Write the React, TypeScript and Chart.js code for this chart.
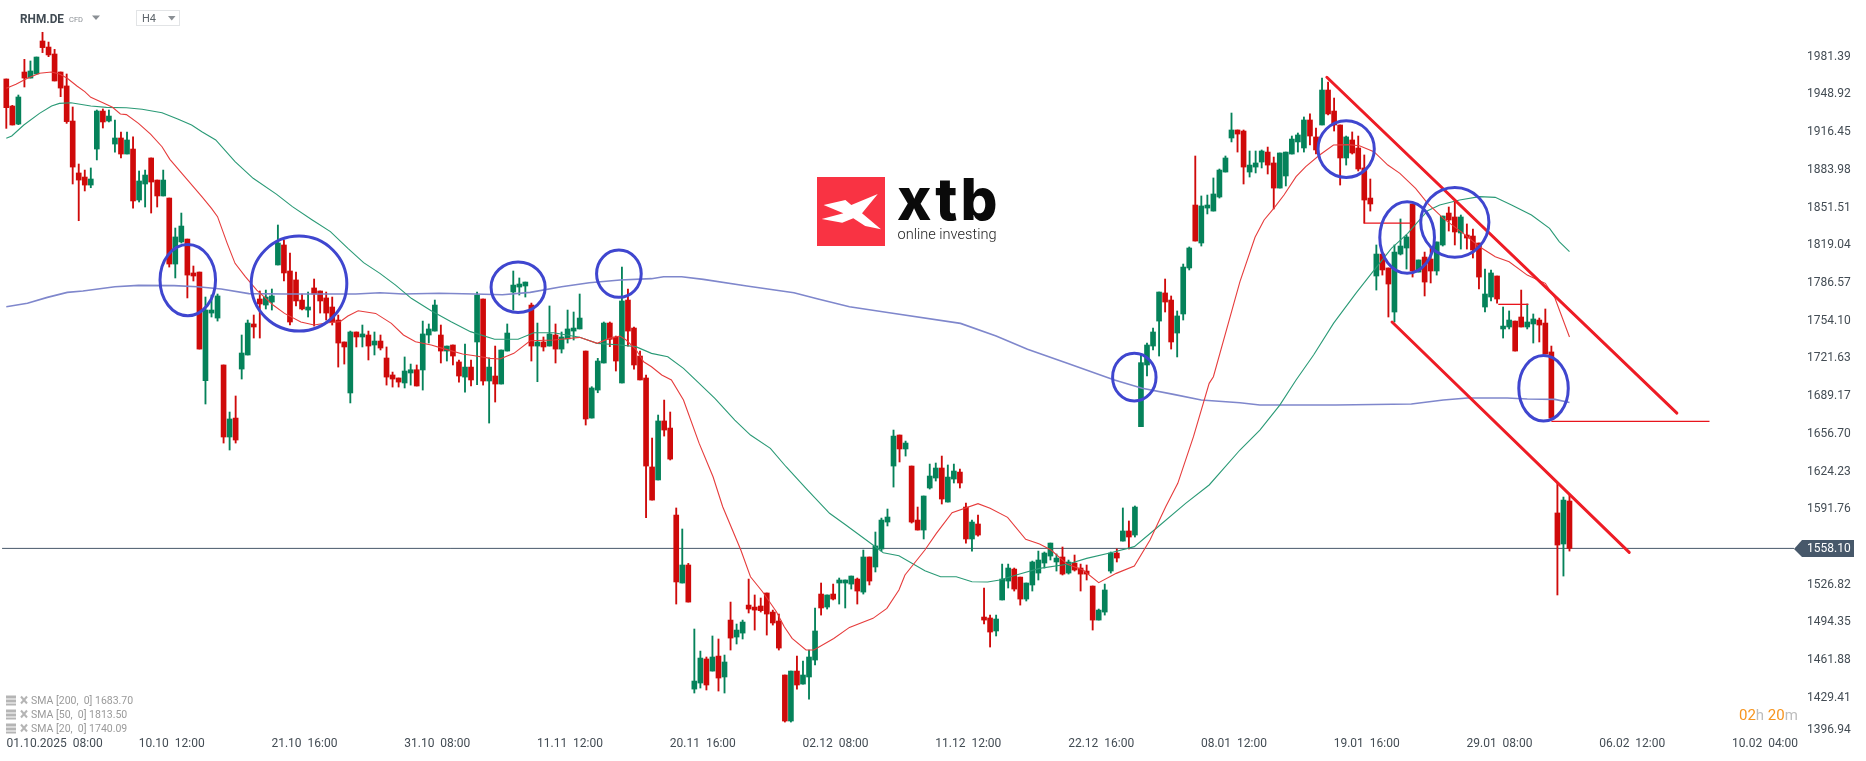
import { useEffect, useRef } from "react";
import { Chart, registerables } from "chart.js";

Chart.register(...registerables);

// H4 candles, one entry per bar
const opens = [
  1962.2, 1938.9, 1923.4, 1968.2, 1963.0, 1966.5, 1994.9, 1989.7, 1983.7, 1968.2,
  1956.2, 1926.0, 1881.3, 1877.8, 1870.9, 1901.9, 1934.6, 1926.0, 1906.2, 1911.4,
  1897.6, 1901.9, 1858.0, 1871.8, 1894.2, 1875.2, 1861.5, 1859.7, 1802.9, 1821.9,
  1824.4, 1795.2, 1796.0, 1702.5, 1760.7, 1756.4, 1716.0, 1654.0, 1670.3, 1712.5,
  1724.6, 1751.3, 1772.8, 1767.6, 1770.2, 1802.1, 1819.3, 1796.9, 1789.2, 1771.9,
  1763.3, 1782.3, 1779.7, 1773.7, 1765.9, 1754.7, 1735.8, 1691.9, 1744.4, 1740.1,
  1741.8, 1733.2, 1736.6, 1722.0, 1707.4, 1704.8, 1700.5, 1709.1, 1711.9, 1711.7,
  1741.8, 1745.2, 1741.8, 1728.0, 1733.2, 1718.6, 1705.6, 1714.2, 1735.8, 1772.8,
  1702.2, 1706.5, 1699.6, 1728.0, 1778.8, 1783.1, 1784.0, 1767.6, 1732.3, 1735.8,
  1732.3, 1741.8, 1729.7, 1738.4, 1745.2, 1747.0, 1728.0, 1670.3, 1694.4, 1717.7,
  1752.1, 1740.1, 1700.5, 1771.9, 1747.8, 1723.7, 1704.8, 1628.2, 1617.0, 1667.8,
  1661.7, 1586.8, 1528.3, 1543.8, 1437.0, 1442.2, 1462.9, 1452.5, 1465.4, 1447.4,
  1496.4, 1481.8, 1485.2, 1509.3, 1507.6, 1508.5, 1519.7, 1503.3, 1495.6, 1449.1,
  1409.5, 1452.5, 1441.3, 1447.4, 1462.0, 1518.8, 1507.6, 1518.8, 1528.3, 1528.3,
  1527.4, 1531.7, 1520.5, 1550.7, 1542.1, 1557.6, 1580.8, 1629.0, 1655.7, 1643.7,
  1629.0, 1582.5, 1573.9, 1610.1, 1618.7, 1627.3, 1598.0, 1617.8, 1623.8, 1593.7,
  1566.2, 1579.1, 1499.0, 1498.2, 1487.0, 1513.7, 1530.0, 1540.3, 1533.4, 1514.5,
  1526.6, 1536.9, 1545.5, 1551.5, 1546.4, 1550.7, 1536.9, 1545.5, 1541.2, 1538.6,
  1525.7, 1496.4, 1503.3, 1538.6, 1554.1, 1564.4, 1573.1, 1569.6, 1662.9, 1716.0,
  1732.3, 1753.8, 1778.0, 1771.9, 1743.5, 1759.9, 1799.5, 1853.7, 1821.0, 1851.1,
  1848.5, 1860.6, 1882.1, 1911.4, 1918.3, 1917.4, 1882.1, 1886.4, 1890.7, 1899.3,
  1889.9, 1868.3, 1878.7, 1897.6, 1908.0, 1902.8, 1926.9, 1912.3, 1922.6, 1952.7,
  1934.6, 1922.6, 1894.2, 1909.7, 1902.8, 1885.6, 1859.7, 1792.6, 1811.5, 1799.5,
  1761.6, 1811.5, 1816.7, 1854.6, 1796.0, 1808.9, 1807.2, 1796.9, 1819.3, 1846.8,
  1843.4, 1829.6, 1827.9, 1827.0, 1821.0, 1765.9, 1774.5, 1792.6, 1747.0, 1748.7,
  1753.8, 1757.3, 1748.7, 1751.3, 1754.7, 1752.1, 1727.2, 1588.6, 1561.9, 1598.9,
];
const highs = [
  1962.2, 1939.5, 1948.4, 1979.1, 1977.7, 1981.1, 2002.4, 1994.0, 1987.7, 1968.2,
  1966.5, 1938.1, 1889.0, 1883.8, 1885.6, 1935.5, 1936.4, 1935.5, 1926.9, 1916.6,
  1916.6, 1912.3, 1883.0, 1883.8, 1894.2, 1875.2, 1883.8, 1859.7, 1833.9, 1846.8,
  1824.4, 1801.2, 1796.0, 1774.5, 1776.2, 1777.1, 1716.0, 1675.5, 1689.3, 1741.8,
  1754.7, 1759.0, 1779.7, 1780.5, 1781.4, 1836.5, 1823.6, 1812.4, 1796.0, 1777.1,
  1778.8, 1790.0, 1779.7, 1778.8, 1774.5, 1759.0, 1735.8, 1745.2, 1744.4, 1750.4,
  1745.2, 1744.4, 1741.8, 1731.5, 1709.9, 1704.8, 1722.9, 1716.8, 1716.0, 1753.8,
  1751.3, 1771.9, 1750.4, 1732.3, 1733.2, 1720.3, 1734.0, 1720.3, 1778.8, 1772.8,
  1722.0, 1732.3, 1728.9, 1751.3, 1796.9, 1790.9, 1787.4, 1769.3, 1752.1, 1740.1,
  1766.8, 1751.3, 1744.4, 1763.3, 1761.6, 1777.1, 1728.0, 1697.3, 1721.7, 1753.0,
  1753.0, 1740.9, 1800.3, 1781.4, 1748.7, 1728.0, 1707.4, 1653.1, 1672.9, 1685.8,
  1675.5, 1592.9, 1574.8, 1545.2, 1488.7, 1469.7, 1464.6, 1482.7, 1480.1, 1466.3,
  1511.9, 1493.0, 1496.4, 1531.7, 1518.0, 1515.4, 1519.7, 1505.0, 1501.6, 1449.1,
  1452.5, 1465.4, 1461.2, 1470.6, 1506.8, 1528.3, 1518.0, 1527.4, 1532.6, 1530.9,
  1534.3, 1532.6, 1556.7, 1550.7, 1572.2, 1584.2, 1592.0, 1660.0, 1655.7, 1650.5,
  1629.0, 1593.7, 1603.2, 1630.7, 1631.6, 1637.6, 1629.9, 1630.7, 1626.4, 1597.2,
  1582.5, 1586.8, 1524.0, 1500.7, 1500.7, 1544.6, 1544.6, 1541.2, 1533.4, 1528.3,
  1547.2, 1555.8, 1555.0, 1562.7, 1553.3, 1559.3, 1548.1, 1552.4, 1544.6, 1543.8,
  1525.7, 1505.9, 1527.4, 1555.0, 1557.6, 1592.9, 1581.7, 1594.6, 1724.6, 1734.9,
  1747.8, 1778.8, 1790.0, 1775.4, 1762.5, 1802.9, 1817.6, 1895.9, 1861.5, 1862.3,
  1877.0, 1884.7, 1895.9, 1932.9, 1918.3, 1918.3, 1900.2, 1900.2, 1901.1, 1903.6,
  1895.0, 1898.5, 1899.3, 1913.1, 1915.7, 1929.5, 1932.1, 1920.0, 1963.0, 1959.6,
  1945.8, 1922.6, 1913.1, 1916.6, 1913.1, 1896.8, 1876.1, 1819.3, 1811.5, 1799.5,
  1819.3, 1841.7, 1827.9, 1854.6, 1806.4, 1813.2, 1816.7, 1821.9, 1844.2, 1852.0,
  1856.3, 1845.1, 1837.4, 1833.0, 1821.0, 1798.6, 1797.8, 1792.6, 1765.9, 1762.5,
  1753.8, 1780.5, 1768.5, 1759.9, 1756.4, 1764.2, 1732.3, 1614.4, 1602.3, 1604.0,
];
const lows = [
  1919.7, 1922.6, 1922.9, 1955.3, 1963.0, 1966.5, 1984.9, 1981.4, 1960.5, 1947.0,
  1924.0, 1871.8, 1840.2, 1865.8, 1868.6, 1892.5, 1920.0, 1925.2, 1899.3, 1894.2,
  1897.6, 1851.1, 1856.3, 1852.0, 1846.8, 1852.0, 1861.5, 1800.3, 1790.9, 1821.0,
  1773.7, 1788.3, 1729.7, 1682.4, 1757.3, 1753.8, 1648.8, 1642.8, 1648.8, 1703.9,
  1724.6, 1739.2, 1739.2, 1764.2, 1763.3, 1802.1, 1788.3, 1750.4, 1766.8, 1763.3,
  1757.3, 1749.5, 1760.7, 1754.7, 1750.4, 1714.2, 1716.8, 1683.3, 1731.5, 1731.5,
  1720.3, 1724.6, 1728.9, 1698.7, 1697.0, 1697.0, 1696.2, 1698.7, 1697.9, 1694.4,
  1734.9, 1745.2, 1717.7, 1719.4, 1716.0, 1701.3, 1692.7, 1697.9, 1699.0, 1698.7,
  1666.0, 1684.1, 1699.6, 1728.0, 1763.3, 1776.2, 1774.5, 1719.4, 1701.6, 1728.0,
  1732.3, 1717.7, 1726.3, 1734.9, 1737.5, 1747.0, 1664.3, 1670.3, 1692.1, 1717.7,
  1731.8, 1710.8, 1700.5, 1732.3, 1712.5, 1703.1, 1584.5, 1599.7, 1617.0, 1654.8,
  1634.2, 1510.2, 1528.3, 1511.9, 1433.6, 1437.9, 1436.2, 1452.5, 1435.3, 1433.6,
  1470.6, 1475.8, 1480.1, 1502.5, 1487.8, 1503.3, 1483.5, 1492.1, 1470.6, 1408.6,
  1408.6, 1437.0, 1441.3, 1428.4, 1457.7, 1500.7, 1505.9, 1513.7, 1510.2, 1506.8,
  1523.1, 1510.2, 1518.8, 1526.6, 1537.8, 1555.8, 1577.4, 1610.9, 1632.5, 1637.6,
  1579.9, 1573.9, 1566.2, 1609.2, 1616.1, 1596.3, 1598.0, 1614.4, 1610.1, 1562.7,
  1555.8, 1568.7, 1493.0, 1473.2, 1482.7, 1513.7, 1524.0, 1521.4, 1509.3, 1512.8,
  1521.4, 1530.9, 1541.2, 1548.1, 1538.6, 1535.2, 1536.0, 1538.6, 1521.4, 1530.9,
  1487.8, 1496.4, 1500.7, 1536.9, 1546.4, 1564.4, 1557.6, 1567.9, 1662.9, 1706.5,
  1728.9, 1723.7, 1761.6, 1729.7, 1722.9, 1754.7, 1797.8, 1822.7, 1818.4, 1846.0,
  1848.5, 1859.7, 1882.1, 1908.0, 1899.3, 1871.8, 1877.8, 1881.3, 1885.6, 1880.4,
  1850.3, 1868.3, 1870.1, 1897.6, 1899.3, 1899.3, 1905.4, 1897.6, 1922.6, 1931.2,
  1917.4, 1870.9, 1888.1, 1897.6, 1883.0, 1838.2, 1848.5, 1780.5, 1793.4, 1757.3,
  1753.0, 1810.7, 1798.6, 1791.7, 1796.0, 1775.4, 1786.6, 1793.4, 1818.4, 1831.3,
  1819.3, 1815.8, 1815.8, 1808.1, 1781.4, 1761.6, 1771.1, 1769.3, 1739.2, 1747.0,
  1728.0, 1748.7, 1747.0, 1734.9, 1735.8, 1725.4, 1669.5, 1518.0, 1534.3, 1555.8,
];
const closes = [
  1937.5, 1922.6, 1946.7, 1963.0, 1969.1, 1981.1, 1989.2, 1982.9, 1960.5, 1954.4,
  1925.5, 1886.4, 1875.2, 1870.9, 1876.1, 1934.6, 1925.2, 1930.3, 1911.4, 1897.6,
  1909.7, 1857.2, 1874.4, 1879.5, 1873.5, 1861.5, 1875.2, 1802.9, 1826.2, 1835.6,
  1793.4, 1792.6, 1729.7, 1763.3, 1763.3, 1775.4, 1654.0, 1669.5, 1651.4, 1726.3,
  1752.1, 1748.7, 1768.5, 1774.5, 1775.4, 1821.0, 1795.2, 1753.0, 1771.1, 1764.2,
  1765.9, 1777.1, 1771.1, 1760.7, 1753.0, 1734.9, 1731.5, 1744.4, 1740.1, 1742.7,
  1732.3, 1736.6, 1730.6, 1705.6, 1703.9, 1701.3, 1710.8, 1711.9, 1697.9, 1742.7,
  1747.0, 1767.6, 1728.0, 1732.3, 1723.7, 1706.5, 1714.2, 1703.1, 1776.2, 1702.2,
  1714.2, 1699.6, 1728.9, 1743.5, 1784.8, 1785.7, 1787.4, 1732.3, 1735.8, 1731.5,
  1742.7, 1729.7, 1740.1, 1747.0, 1747.8, 1756.4, 1669.5, 1696.2, 1719.4, 1752.1,
  1738.1, 1719.4, 1771.1, 1745.2, 1716.0, 1703.1, 1629.0, 1599.7, 1667.8, 1660.0,
  1635.0, 1529.2, 1543.8, 1511.9, 1443.9, 1463.7, 1440.5, 1464.6, 1446.5, 1460.3,
  1480.9, 1487.8, 1494.7, 1505.9, 1505.0, 1504.5, 1501.6, 1493.9, 1472.3, 1409.5,
  1452.5, 1440.5, 1449.1, 1464.6, 1487.0, 1506.8, 1518.0, 1514.5, 1530.9, 1530.9,
  1534.3, 1521.4, 1550.7, 1530.0, 1560.2, 1582.5, 1585.1, 1654.8, 1643.7, 1648.8,
  1580.8, 1573.9, 1603.2, 1620.4, 1627.3, 1600.6, 1619.5, 1624.7, 1614.4, 1566.2,
  1580.8, 1569.6, 1496.4, 1486.1, 1497.3, 1531.7, 1541.2, 1523.1, 1514.5, 1528.3,
  1546.4, 1548.1, 1554.1, 1562.7, 1549.8, 1536.0, 1546.4, 1539.5, 1536.0, 1536.0,
  1496.4, 1505.0, 1522.3, 1554.1, 1549.8, 1573.1, 1567.9, 1593.7, 1718.0, 1733.2,
  1744.4, 1778.8, 1770.2, 1735.8, 1758.2, 1800.3, 1816.7, 1822.7, 1852.9, 1853.7,
  1863.2, 1883.8, 1894.2, 1918.3, 1914.8, 1886.4, 1888.1, 1889.9, 1900.2, 1888.1,
  1868.3, 1898.5, 1899.3, 1910.5, 1914.0, 1926.9, 1913.1, 1901.1, 1952.7, 1932.1,
  1922.6, 1894.2, 1912.3, 1898.5, 1884.7, 1858.0, 1854.6, 1811.5, 1797.8, 1785.7,
  1813.2, 1818.4, 1826.2, 1796.9, 1806.4, 1787.4, 1796.9, 1821.9, 1844.2, 1840.8,
  1830.5, 1843.4, 1825.3, 1815.0, 1791.7, 1777.1, 1795.2, 1772.8, 1749.5, 1754.7,
  1728.0, 1748.7, 1753.0, 1755.6, 1750.4, 1725.4, 1670.3, 1561.0, 1599.7, 1558.1,
];

// moving averages, read at the bends of each curve
const sma20Index = [
  0, 1.6, 3.5, 5.5, 7.5, 8.8, 10.1, 11.7, 13, 14, 16, 17.6, 18.9, 19.9, 21.9, 23.9, 25.8, 27.1, 29.8, 32.4,
  34, 35, 36.6, 37.9, 39.6, 41.5, 44.2, 46.1, 48.8, 51, 53.3, 55.3, 56.6, 58.3, 61.2, 63.8, 65.8, 67.8, 70.4, 72.3,
  75.6, 77.6, 80.2, 81.8, 84.1, 86.8, 90.7, 95, 97.9, 99.9, 101.7, 102.7, 104.3, 105.6, 106.9, 108.6, 110.2, 112.2, 114.8, 117.1,
  118.7, 121.7, 123.3, 125.3, 127.6, 128.9, 130.2, 132.5, 133.8, 137.1, 139.7, 143.6, 145.9, 147.9, 148.9, 152.2, 154.1, 156.7, 161, 163,
  165.9, 168.9, 171.2, 173.1, 175.8, 178.4, 181, 183.9, 186.9, 189.5, 192.1, 194.1, 196.7, 199.3, 200, 204.4, 206.9, 208.4, 210, 211.7,
  213.7, 215.3, 217.6, 219.9, 222.3, 224.2, 226.6, 228.9, 230.9, 233.5, 235.5, 238.1, 241.4, 244.1, 246.7, 249, 252, 255, 256.6, 259,
];
const sma20Values = [
  1954.2, 1957.6, 1962.8, 1967.1, 1968.2, 1966.5, 1962.8, 1956.2, 1951.3, 1946.4, 1941.8, 1937.8, 1932.1, 1931.5, 1924.0, 1914.8, 1903.9, 1893.0, 1876.7, 1860.9,
  1850.8, 1843.7, 1820.7, 1803.5, 1792.0, 1780.5, 1767.6, 1760.4, 1753.0, 1750.4, 1752.4, 1753.3, 1758.2, 1762.7, 1760.4, 1751.8, 1741.8, 1736.0, 1733.2, 1730.3,
  1725.4, 1724.0, 1721.7, 1721.1, 1726.0, 1736.9, 1737.5, 1739.8, 1734.6, 1738.9, 1740.9, 1737.5, 1729.5, 1718.8, 1714.5, 1707.4, 1703.1, 1685.8, 1648.5, 1619.8,
  1594.0, 1556.7, 1533.7, 1520.8, 1503.6, 1490.7, 1480.6, 1470.6, 1470.6, 1480.6, 1490.1, 1497.9, 1506.5, 1522.3, 1535.2, 1556.7, 1571.0, 1588.8, 1596.6, 1592.6,
  1584.8, 1565.9, 1561.9, 1556.7, 1544.4, 1539.5, 1528.6, 1536.6, 1542.9, 1565.3, 1594.0, 1614.1, 1654.3, 1700.2, 1705.9, 1787.7, 1825.9, 1840.8, 1850.8, 1862.3,
  1878.1, 1886.7, 1896.8, 1905.4, 1905.7, 1904.8, 1899.6, 1888.1, 1881.0, 1868.1, 1855.1, 1842.2, 1829.3, 1817.8, 1809.2, 1804.9, 1793.4, 1786.3, 1773.4, 1740.09,
];
const sma50Index = [
  0, 0.9, 2.9, 5.5, 7.5, 8.8, 10.7, 14, 16.6, 19.9, 22.5, 25.8, 28.4, 30.7, 32.4, 34.7, 37.9, 40.9, 44.8, 47.4,
  50.7, 53.7, 56.6, 59.2, 61.9, 64.5, 67.1, 70.4, 73.7, 76.9, 80.9, 84.8, 87.4, 90.7, 95, 97.9, 101.7, 104.3, 106.9, 109.6,
  112.2, 114.2, 117.4, 120.7, 123.3, 126.6, 129.2, 132.5, 136.4, 139.1, 143.6, 145.3, 147.9, 152.2, 154.8, 157.4, 160, 162.6, 164.6, 167.9,
  171.2, 175.8, 179, 183, 186.9, 190.2, 195.4, 199.3, 204.4, 207.7, 211, 213.7, 216.6, 219.9, 223.6, 226.2, 229.5, 232.2, 235.5, 237.5,
  240.8, 244.1, 246.7, 249.4, 252.7, 255.7, 257.3, 259,
];
const sma50Values = [
  1911.1, 1913.1, 1922.6, 1932.6, 1938.9, 1941.2, 1941.8, 1938.9, 1937.8, 1937.5, 1936.1, 1933.2, 1927.8, 1922.6, 1916.8, 1909.7, 1891.0, 1876.7, 1862.9, 1852.3,
  1840.8, 1830.8, 1816.4, 1804.1, 1794.9, 1784.8, 1773.4, 1762.7, 1753.3, 1744.7, 1738.1, 1738.1, 1743.8, 1743.8, 1739.8, 1734.6, 1733.2, 1731.8, 1726.0, 1723.1,
  1713.1, 1703.1, 1687.3, 1668.6, 1655.7, 1644.2, 1628.4, 1609.8, 1588.3, 1578.2, 1561.0, 1554.4, 1551.8, 1538.9, 1533.7, 1533.7, 1529.4, 1529.2, 1530.9, 1536.0,
  1540.9, 1544.4, 1549.5, 1554.4, 1559.6, 1573.9, 1596.9, 1612.7, 1642.8, 1660.0, 1681.5, 1703.1, 1724.6, 1751.8, 1777.7, 1794.9, 1816.4, 1829.3, 1848.8, 1853.7,
  1858.0, 1860.9, 1860.3, 1853.7, 1845.1, 1833.6, 1822.2, 1813.5,
];
const sma200Index = [
  0, 3.5, 6.8, 10.1, 12.7, 18, 21.9, 27.8, 31.7, 35.6, 40.2, 46.1, 57.9, 61.9, 65.8, 71.7, 77.6, 82.2, 86.8, 92,
  96.6, 101.7, 106.9, 108.9, 111.9, 115.5, 122.7, 130.5, 134.5, 139.7, 146.3, 158.1, 164, 169.2, 175.8, 183.6, 188.2, 193.4, 198, 204.4,
  207.7, 220.3, 232.8, 238.1, 242.1, 248.7, 252, 256.6, 259,
];
const sma200Values = [
  1766.2, 1769.1, 1774.2, 1778.5, 1779.7, 1783.4, 1784.5, 1784.3, 1783.4, 1781.4, 1777.4, 1777.1, 1777.1, 1778.2, 1777.1, 1777.7, 1777.1, 1776.5, 1778.5, 1783.4,
  1786.8, 1789.2, 1790.3, 1792.0, 1792.0, 1789.7, 1784.0, 1778.2, 1772.8, 1766.2, 1761.0, 1751.8, 1740.9, 1729.5, 1717.4, 1703.1, 1695.9, 1690.7, 1685.8, 1683.5,
  1681.5, 1681.5, 1682.4, 1685.8, 1687.6, 1687.6, 1686.7, 1686.4, 1683.7,
];

// hand-drawn analysis on top of the chart
const trendIndex = [[218.8, 276.8], [229.6, 268.9]];
const trendPrice = [[1963.7, 1674.6], [1753.0, 1554.7]];
const levelIndex = [[224.9, 232.9], [247.2, 252.2], [256, 282.2]];
const levelPrice = [1838.2, 1768.2, 1667.5];
const ringIndex = [30.07, 48.5, 84.8, 101.5, 186.9, 222, 232.1, 240, 254.7];
const ringPrice = [1789.1, 1786.1, 1782.9, 1794.6, 1705.5, 1901.9, 1825.7, 1838.8, 1695.9];
const ringIndexRadius = [4.6, 7.92, 4.48, 3.7, 3.6, 4.66, 4.53, 5.65, 4.1];
const ringPriceRadius = [30.7, 40.9, 21.8, 20.4, 20.5, 24.4, 30.8, 30, 28.2];

const currentPrice = 1558.1;
const priceTicks = [
  1396.94, 1429.41, 1461.88, 1494.35, 1526.82, 1591.76, 1624.23, 1656.7, 1689.17, 1721.63, 1754.1, 1786.57, 1819.04,
  1851.51, 1883.98, 1916.45, 1948.92, 1981.39,
];
const timeTickIndex = [8, 27.4, 49.4, 71.4, 93.4, 115.4, 137.4, 159.4, 181.4, 203.4, 225.4, 247.4, 269.4, 291.4];
const timeTickLabels = [
  "01.10.2025  08:00", "10.10  12:00", "21.10  16:00", "31.10  08:00", "11.11  12:00", "20.11  16:00", "02.12  08:00",
  "11.12  12:00", "22.12  16:00", "08.01  12:00", "19.01  16:00", "29.01  08:00", "06.02  12:00", "10.02  04:00",
];
const smaLegend = ["SMA [200,  0] 1683.70", "SMA [50,  0] 1813.50", "SMA [20,  0] 1740.09"];

const UP = "#05825a";
const DOWN = "#cf0a0a";
const FONT = "Roboto, sans-serif";

const lineSet = (xs: number[], ys: number[], color: string, width: number, order: number) => ({
  type: "line" as const,
  data: xs.map((x, i) => ({ x, y: ys[i] })),
  borderColor: color,
  borderWidth: width,
  pointRadius: 0,
  tension: 0,
  order,
});

const text = (ctx: CanvasRenderingContext2D, s: string, x: number, y: number, font: string, color: string, maxWidth?: number) => {
  ctx.font = font;
  ctx.fillStyle = color;
  ctx.textAlign = "left";
  ctx.textBaseline = "middle";
  if (maxWidth) ctx.fillText(s, x, y, maxWidth);
  else ctx.fillText(s, x, y);
};

const triangle = (ctx: CanvasRenderingContext2D, x: number, y: number, w: number, h: number, color: string) => {
  ctx.fillStyle = color;
  ctx.beginPath();
  ctx.moveTo(x, y);
  ctx.lineTo(x + w, y);
  ctx.lineTo(x + w / 2, y + h);
  ctx.closePath();
  ctx.fill();
};

// the xtb mark, header, legend, rings and the price flag: everything the scales don't draw
const overlay = {
  id: "overlay",
  afterDraw(chart: any) {
    const { ctx, scales } = chart;
    ctx.save();

    // logo
    ctx.fillStyle = "#f93343";
    ctx.fillRect(817, 177, 68, 69);
    ctx.fillStyle = "#fff";
    ctx.beginPath();
    [[823.6, 205], [845.4, 200], [851.3, 205], [877.8, 194], [862, 213.3], [881, 229.3], [865.2, 226], [853.3, 218.3], [842.2, 222.7], [821.7, 219], [843.4, 213.3]]
      .forEach(([x, y], i) => (i ? ctx.lineTo(x, y) : ctx.moveTo(x, y)));
    ctx.closePath();
    ctx.fill();
    ctx.letterSpacing = "3px";
    text(ctx, "xtb", 897, 203, "800 58px Inter, sans-serif", "#0a0a0a");
    ctx.letterSpacing = "0px";
    text(ctx, "online investing", 897.5, 235.5, "300 15px " + FONT, "#222", 99);

    // header
    text(ctx, "RHM.DE", 20, 19.5, "bold 13px " + FONT, "#414b53", 44);
    text(ctx, "CFD", 69, 19.5, "8px " + FONT, "#8a8f94", 14);
    triangle(ctx, 92, 15.5, 8, 4.5, "#8a8f94");
    ctx.strokeStyle = "#e2e4e6";
    ctx.lineWidth = 1;
    ctx.strokeRect(136.5, 10.5, 43, 15);
    text(ctx, "H4", 142, 19.5, "11px " + FONT, "#5f666c");
    triangle(ctx, 168, 16, 7.5, 4.5, "#8a8f94");

    // sma legend
    smaLegend.forEach((s, i) => {
      const y = 701.5 + i * 14;
      ctx.fillStyle = "#b5b5b5";
      ctx.fillRect(6, y - 6, 10, 3);
      ctx.fillRect(6, y - 2, 10, 3);
      ctx.fillRect(6, y + 2, 10, 2);
      ctx.strokeStyle = "#b5b5b5";
      ctx.lineWidth = 2;
      ctx.beginPath();
      ctx.moveTo(21, y - 5);
      ctx.lineTo(27, y + 2);
      ctx.moveTo(27, y - 5);
      ctx.lineTo(21, y + 2);
      ctx.stroke();
      text(ctx, s, 31, y, "10.5px " + FONT, "#9a9a9a");
    });

    // countdown
    const parts: [string, string][] = [["02", "#f7941d"], ["h", "#bdbdbd"], [" ", "#bdbdbd"], ["20", "#f7941d"], ["m", "#bdbdbd"]];
    let cx = 1739;
    parts.forEach(([s, c]) => {
      text(ctx, s, cx, 716, "15px " + FONT, c);
      cx += ctx.measureText(s).width;
    });

    // rings
    ctx.strokeStyle = "#3f46cf";
    ctx.lineWidth = 3;
    ringIndex.forEach((v, i) => {
      const px = scales.x.getPixelForValue(v);
      const py = scales.y.getPixelForValue(ringPrice[i]);
      const rx = scales.x.getPixelForValue(v + ringIndexRadius[i]) - px;
      const ry = py - scales.y.getPixelForValue(ringPrice[i] + ringPriceRadius[i]);
      ctx.beginPath();
      ctx.ellipse(px, py, rx, ry, 0, 0, Math.PI * 2);
      ctx.stroke();
    });

    // price flag
    const fy = scales.y.getPixelForValue(currentPrice);
    ctx.fillStyle = "#47586a";
    ctx.beginPath();
    ctx.moveTo(1794, fy + 0.5);
    ctx.lineTo(1802, fy - 8.5);
    ctx.lineTo(1854, fy - 8.5);
    ctx.lineTo(1854, fy + 8.5);
    ctx.lineTo(1802, fy + 8.5);
    ctx.closePath();
    ctx.fill();
    text(ctx, currentPrice.toFixed(2), 1807, fy + 1, "12px " + FONT, "#fff");

    ctx.restore();
  },
};

export default function App() {
  const ref = useRef<HTMLCanvasElement>(null);

  useEffect(() => {
    if (!ref.current) return;
    const colors = closes.map((c, i) => (c >= opens[i] ? UP : DOWN));
    const chart = new Chart(ref.current, {
      type: "bar",
      data: {
        datasets: [
          lineSet([-0.7, 296.2], [currentPrice, currentPrice], "#47586a", 1, 9),
          {
            type: "bar",
            data: lows.map((l, i) => ({ x: i, y: [l, highs[i]] })),
            backgroundColor: colors,
            barThickness: 1.2,
            maxBarThickness: 1.2,
            grouped: false,
            order: 6,
          },
          {
            type: "bar",
            data: opens.map((o, i) => ({ x: i, y: [o, closes[i]] })),
            backgroundColor: colors,
            barThickness: 5,
            maxBarThickness: 5,
            grouped: false,
            order: 5,
          },
          lineSet(sma200Index, sma200Values, "#7f87cc", 1.6, 4),
          lineSet(sma50Index, sma50Values, "#2a9a76", 1.1, 3),
          lineSet(sma20Index, sma20Values, "#e63c3c", 1.1, 2),
          ...trendIndex.map((xs, i) => ({ ...lineSet(xs, trendPrice[i], "#ee1c25", 3, 1), borderCapStyle: "round" as const })),
          ...levelIndex.map((xs, i) => lineSet(xs, [levelPrice[i], levelPrice[i]], "#e8141c", 1.3, 1)),
        ] as any,
      },
      options: {
        animation: false,
        responsive: false,
        devicePixelRatio: 1,
        layout: { padding: 0 },
        plugins: { legend: { display: false }, tooltip: { enabled: false } },
        scales: {
          x: {
            type: "linear",
            min: -1.044,
            max: 296.2,
            offset: false,
            grid: { display: false, drawTicks: false },
            border: { display: false },
            // the plot runs to the canvas edges, so no room is kept for the outer labels
            afterFit: (s: any) => {
              s.height = 25;
              s.paddingLeft = 0;
              s.paddingRight = 0;
            },
            afterBuildTicks: (s: any) => {
              s.ticks = timeTickIndex.map((value) => ({ value }));
            },
            ticks: {
              autoSkip: false,
              maxRotation: 0,
              padding: 1,
              color: "#434c54",
              font: { family: FONT, size: 12 },
              callback: (_v: any, i: number) => timeTickLabels[i],
            },
          },
          y: {
            type: "linear",
            position: "right",
            min: 1396.6,
            max: 2030.2,
            grid: { display: false, drawTicks: false },
            border: { display: false },
            afterFit: (s: any) => {
              s.width = 72;
              s.paddingTop = 0;
              s.paddingBottom = 0;
            },
            // the lowest label sits a little above its level, it's held inside the plot
            afterBuildTicks: (s: any) => {
              s.ticks = priceTicks.map((v) => ({ value: Math.max(v, 1401.4) }));
            },
            ticks: {
              autoSkip: false,
              padding: 13,
              color: "#434c54",
              font: { family: FONT, size: 12 },
              callback: (_v: any, i: number) => priceTicks[i].toFixed(2),
            },
          },
        },
      },
      plugins: [overlay],
    } as any);
    return () => chart.destroy();
  }, []);

  return (
    <div style={{ position: "absolute", left: 0, top: 0, width: 1866, height: 761, background: "#fff" }}>
      <canvas ref={ref} width={1866} height={761} style={{ display: "block" }} />
    </div>
  );
}
